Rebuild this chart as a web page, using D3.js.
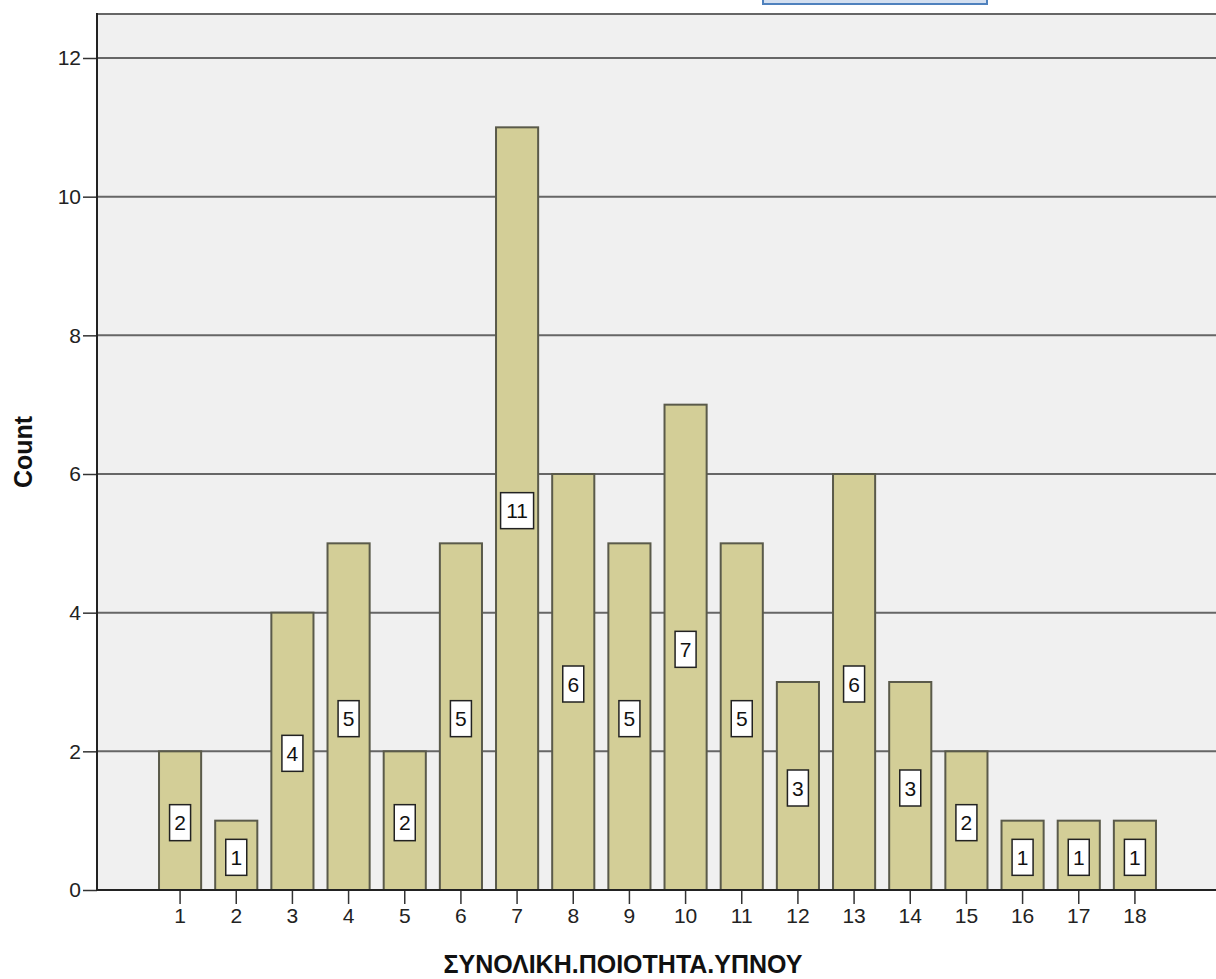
<!DOCTYPE html>
<html>
<head>
<meta charset="utf-8">
<script src="https://cdn.jsdelivr.net/npm/d3@7"></script>
<style>
  body { margin: 0; background: #fff; }
  svg { display: block; font-family: Arial, "Liberation Sans", sans-serif; }
</style>
</head>
<body>
<div id="chart"></div>
<script>
// Values
const categories = ["1","2","3","4","5","6","7","8","9","10","11","12","13","14","15","16","17","18"];
const counts = [2, 1, 4, 5, 2, 5, 11, 6, 5, 7, 5, 3, 6, 3, 2, 1, 1, 1];
const yTicks = [0, 2, 4, 6, 8, 10, 12];
const xTitle = "ΣΥΝΟΛΙΚΗ.ΠΟΙΟΤΗΤΑ.ΥΠΝΟΥ";
const yTitle = "Count";

const data = categories.map((c, i) => ({ cat: c, value: counts[i] }));

const width = 1216;
const height = 979;
const plotLeft = 97, plotTop = 14, plotBottom = 890;
const fontFamily = "Arial, 'Liberation Sans', sans-serif";

const svg = d3.select("#chart").append("svg")
    .attr("width", width)
    .attr("height", height);

// y scale: 0 at 890, 12 at 58
const y = d3.scaleLinear().domain([0, 12]).range([plotBottom, 58]);

const x = d3.scaleBand()
    .domain(categories)
    .range([152, 1163])
    .paddingInner(0.25)
    .paddingOuter(0.125);

// plot background
svg.append("rect")
    .attr("x", plotLeft).attr("y", plotTop)
    .attr("width", width - plotLeft + 5).attr("height", plotBottom - plotTop)
    .attr("fill", "#f0f0f0");

// gridlines
svg.append("g")
    .selectAll("line")
    .data(yTicks.filter(d => d > 0))
    .enter().append("line")
    .attr("x1", plotLeft).attr("x2", width)
    .attr("y1", d => y(d)).attr("y2", d => y(d))
    .attr("stroke", "#666")
    .attr("stroke-width", 2);

// top frame line
svg.append("line")
    .attr("x1", plotLeft).attr("x2", width)
    .attr("y1", plotTop).attr("y2", plotTop)
    .attr("stroke", "#666").attr("stroke-width", 2);

// bars
svg.append("g")
    .selectAll("rect")
    .data(data)
    .enter().append("rect")
    .attr("x", d => x(d.cat))
    .attr("y", d => y(d.value))
    .attr("width", x.bandwidth())
    .attr("height", d => y(0) - y(d.value))
    .attr("fill", "#d3ce97")
    .attr("stroke", "#5a5a4a")
    .attr("stroke-width", 2);

// value labels
const labels = svg.append("g")
    .selectAll("g")
    .data(data)
    .enter().append("g")
    .attr("transform", d => `translate(${x(d.cat) + x.bandwidth() / 2},${y(d.value / 2) + 2})`);

labels.append("rect")
    .attr("x", d => d.value >= 10 ? -16.5 : -10.5)
    .attr("y", -18)
    .attr("width", d => d.value >= 10 ? 33 : 21)
    .attr("height", 36)
    .attr("fill", "#fff")
    .attr("stroke", "#222")
    .attr("stroke-width", 1.5);

labels.append("text")
    .attr("text-anchor", "middle")
    .attr("dy", "0.36em")
    .style("font-size", "21px")
    .style("font-family", fontFamily)
    .attr("fill", "#111")
    .text(d => d.value);

// y axis
const yAxis = svg.append("g")
    .attr("transform", `translate(${plotLeft},0)`)
    .call(d3.axisLeft(y).tickValues(yTicks).tickSize(14).tickPadding(2).tickSizeOuter(0));
yAxis.select(".domain").remove();
yAxis.selectAll(".tick line").attr("stroke", "#333").attr("stroke-width", 1.5);
yAxis.selectAll(".tick text")
    .style("font-size", "21px")
    .style("font-family", fontFamily)
    .attr("fill", "#222");

svg.append("line")
    .attr("x1", plotLeft).attr("x2", plotLeft)
    .attr("y1", plotTop - 1).attr("y2", plotBottom)
    .attr("stroke", "#222").attr("stroke-width", 2);

// x axis
const xAxis = svg.append("g")
    .attr("transform", `translate(0,${plotBottom})`)
    .call(d3.axisBottom(x).tickSize(14).tickPadding(4).tickSizeOuter(0));
xAxis.select(".domain").remove();
xAxis.selectAll(".tick line").attr("stroke", "#333").attr("stroke-width", 1.5);
xAxis.selectAll(".tick text")
    .style("font-size", "21px")
    .style("font-family", fontFamily)
    .attr("fill", "#222");

svg.append("line")
    .attr("x1", plotLeft - 1).attr("x2", width)
    .attr("y1", plotBottom).attr("y2", plotBottom)
    .attr("stroke", "#222").attr("stroke-width", 2);

// axis titles
svg.append("text")
    .attr("x", 623).attr("y", 973)
    .attr("text-anchor", "middle")
    .style("font-size", "25px")
    .style("font-family", fontFamily)
    .attr("font-weight", "bold")
    .attr("fill", "#111")
    .text(xTitle);

svg.append("text")
    .attr("transform", "translate(32,452) rotate(-90)")
    .attr("text-anchor", "middle")
    .style("font-size", "25px")
    .style("font-family", fontFamily)
    .attr("font-weight", "bold")
    .attr("fill", "#111")
    .text(yTitle);

// cropped selection box at the top
svg.append("rect")
    .attr("x", 763).attr("y", -3)
    .attr("width", 224).attr("height", 7)
    .attr("fill", "#d3dff0")
    .attr("stroke", "#4f81bd")
    .attr("stroke-width", 2);
</script>
</body>
</html>
